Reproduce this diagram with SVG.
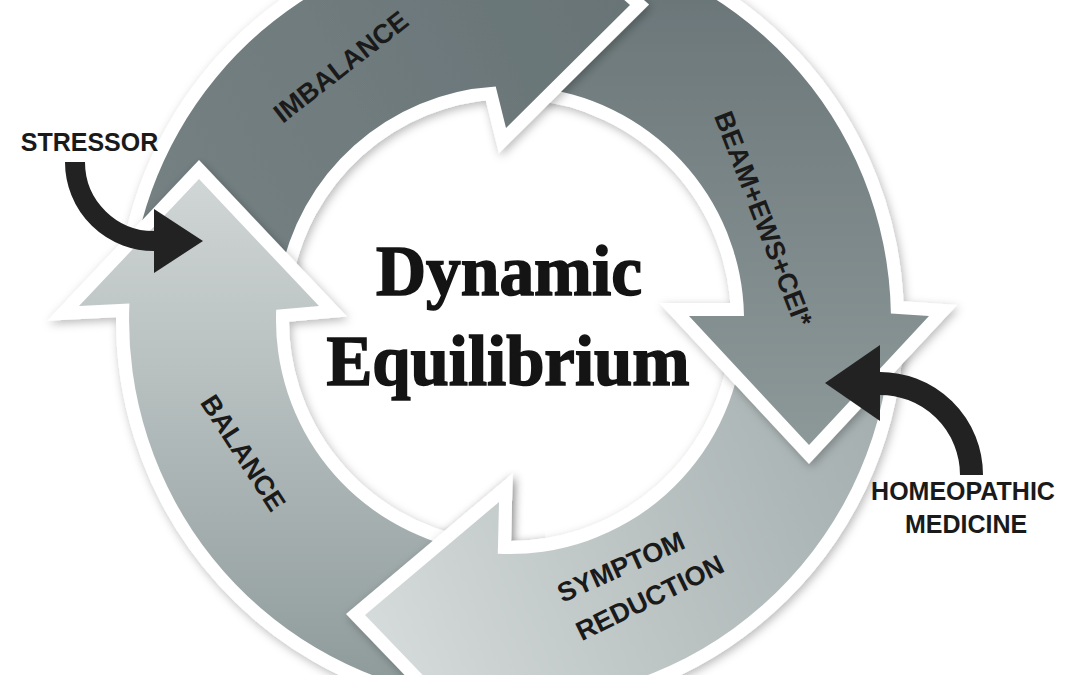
<svg xmlns="http://www.w3.org/2000/svg" xmlns:xlink="http://www.w3.org/1999/xlink" width="1080" height="675" viewBox="0 0 1080 675">
  <style>
    .ring { stroke: #ffffff; stroke-width: 26; stroke-linejoin: miter; stroke-miterlimit: 6; paint-order: stroke; }
    .rlbl { font-family: "Liberation Sans", Arial, sans-serif; font-weight: bold; font-size: 27px; fill: #1a1a1a; text-anchor: middle; dominant-baseline: central; }
    .olbl { font-family: "Liberation Sans", Arial, sans-serif; font-weight: bold; font-size: 25px; fill: #1a1a1a; text-anchor: middle; }
    .title { font-family: "Liberation Serif", "Times New Roman", serif; font-weight: bold; font-size: 71px; fill: #141414; stroke: #141414; stroke-width: 1.6; text-anchor: middle; }
    .blk { fill: #222222; }
    .blkline { fill: none; stroke: #222222; }
  </style>
  <defs>
    <filter id="shadow" x="-20%" y="-20%" width="140%" height="140%">
      <feDropShadow dx="2" dy="3" stdDeviation="5" flood-color="#000000" flood-opacity="0.28"/>
    </filter>
    <linearGradient id="gSym" gradientUnits="userSpaceOnUse" x1="900" y1="400" x2="370" y2="620">
      <stop offset="0" stop-color="#a3adae"/>
      <stop offset="0.5" stop-color="#bac2c2"/>
      <stop offset="1" stop-color="#d5dada"/>
    </linearGradient>
    <linearGradient id="gBeam" gradientUnits="userSpaceOnUse" x1="0" y1="0" x2="0" y2="445">
      <stop offset="0" stop-color="#6b7779"/>
      <stop offset="1" stop-color="#8d9899"/>
    </linearGradient>
    <linearGradient id="gImb" gradientUnits="userSpaceOnUse" x1="140" y1="250" x2="630" y2="0">
      <stop offset="0" stop-color="#758183"/>
      <stop offset="1" stop-color="#687476"/>
    </linearGradient>
    <linearGradient id="gBal" gradientUnits="userSpaceOnUse" x1="0" y1="180" x2="0" y2="690">
      <stop offset="0" stop-color="#d0d5d5"/>
      <stop offset="0.5" stop-color="#b0b9b9"/>
      <stop offset="1" stop-color="#8e9a9a"/>
    </linearGradient>
    <clipPath id="clipSymHead">
      <rect x="300" y="470" width="245" height="205"/>
    </clipPath>
    <path id="shape-symptom" class="ring" fill="url(#gSym)" d="M 890.1 346.6 A 381 381 0 0 1 490.1 700.5 L 487 742 L 365 615 L 499 502 L 497.8 553.7 A 234 234 0 0 0 743.4 336.3 Z"/>
  </defs>

  <rect x="0" y="0" width="1080" height="675" fill="#ffffff"/>

  <g id="node-symptom-reduction">
    <use xlink:href="#shape-symptom" href="#shape-symptom" filter="url(#shadow)"/>
    <text class="rlbl" transform="translate(621 567) rotate(-24)">SYMPTOM</text>
    <text class="rlbl" transform="translate(650 598) rotate(-26)">REDUCTION</text>
  </g>

  <g id="node-beam">
    <path class="ring" fill="url(#gBeam)" filter="url(#shadow)" d="M 543.2 -59.6 A 381 381 0 0 1 890.9 313.4 L 929 316 L 809 445 L 689 316 L 744 315.9 A 234 234 0 0 0 530.4 86.9 Z"/>
    <text class="rlbl" transform="translate(763 219) rotate(69)">BEAM+EWS+CEI*</text>
  </g>

  <g id="node-imbalance">
    <path class="ring" fill="url(#gImb)" filter="url(#shadow)" d="M 134.8 253.8 A 381 381 0 0 1 500 -60.9 L 498 -111 L 630 5 L 506 128 L 495.7 86.4 A 234 234 0 0 0 279.6 279.4 Z"/>
    <text class="rlbl" transform="translate(341 67) rotate(-38)">IMBALANCE</text>
  </g>

  <g id="node-balance">
    <path class="ring" fill="url(#gBal)" filter="url(#shadow)" d="M 443.8 695.2 A 381 381 0 0 1 129.4 303.4 L 79 306 L 199 179 L 319 306 L 276.2 309.8 A 234 234 0 0 0 469.4 550.4 Z"/>
    <text class="rlbl" transform="translate(243 453) rotate(57)">BALANCE</text>
  </g>

  <g id="symptom-head-overlay" clip-path="url(#clipSymHead)">
    <use xlink:href="#shape-symptom" href="#shape-symptom" filter="url(#shadow)"/>
  </g>

  <g id="node-title">
    <text class="title" x="509" y="295" textLength="266" lengthAdjust="spacingAndGlyphs">Dynamic</text>
    <text class="title" x="508" y="385" textLength="363" lengthAdjust="spacingAndGlyphs">Equilibrium</text>
  </g>

  <g id="node-stressor">
    <text class="olbl" x="89.5" y="151">STRESSOR</text>
  </g>

  <g id="node-homeopathic-medicine">
    <text class="olbl" x="963" y="500">HOMEOPATHIC</text>
    <text class="olbl" x="966" y="533">MEDICINE</text>
  </g>

  <g id="connectors">
    <g id="conn-stressor">
      <path class="blkline" stroke-width="20" d="M 75 162 A 79 79 0 0 0 156 241"/>
      <polygon class="blk" points="154,209 154,273 203,241"/>
    </g>
    <g id="conn-homeopathic">
      <path class="blkline" stroke-width="23" d="M 971.5 475 A 91.5 91.5 0 0 0 878 383.5"/>
      <polygon class="blk" points="880,345 880,421 825,383"/>
    </g>
  </g>
</svg>
